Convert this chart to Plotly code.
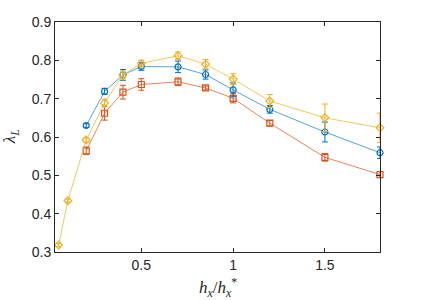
import plotly.graph_objects as go

x_blue = [0.2, 0.3, 0.4, 0.5, 0.7, 0.85, 1.0, 1.2, 1.5, 1.8]
y_blue = [0.630, 0.719, 0.762, 0.784, 0.783, 0.763, 0.723, 0.672, 0.613, 0.559]
e_blue = [0.005, 0.008, 0.014, 0.010, 0.015, 0.012, 0.018, 0.010, 0.026, 0.015]

x_red = [0.2, 0.3, 0.4, 0.5, 0.7, 0.85, 1.0, 1.2, 1.5, 1.8]
y_red = [0.564, 0.662, 0.717, 0.737, 0.744, 0.728, 0.701, 0.636, 0.547, 0.502]
e_red = [0.010, 0.018, 0.018, 0.015, 0.010, 0.005, 0.012, 0.007, 0.010, 0.008]

x_yel = [0.05, 0.1, 0.2, 0.3, 0.4, 0.5, 0.7, 0.85, 1.0, 1.2, 1.5, 1.8]
y_yel = [0.318, 0.434, 0.592, 0.689, 0.762, 0.792, 0.812, 0.790, 0.751, 0.694, 0.650, 0.624]
e_yel = [0.004, 0.004, 0.006, 0.010, 0.010, 0.008, 0.010, 0.012, 0.014, 0.017, 0.036, 0.038]

x_ticks = [0.5, 1, 1.5]
y_ticks = [0.3, 0.4, 0.5, 0.6, 0.7, 0.8, 0.9]

fig = go.Figure()

def add(x, y, e, color, line_rgba, symbol):
    fig.add_trace(go.Scatter(
        x=x, y=y, mode="lines+markers", cliponaxis=False,
        line=dict(color=line_rgba, width=1),
        marker=dict(symbol=symbol, size=6, color=color,
                    line=dict(color=color, width=1.2)),
        error_y=dict(type="data", array=e, color=color, thickness=1, width=3),
        showlegend=False))

add(x_red, y_red, e_red, "#D95319", "rgba(217,83,25,0.7)", "square-open")
add(x_blue, y_blue, e_blue, "#0072BD", "rgba(0,114,189,0.65)", "circle-open")
add(x_yel, y_yel, e_yel, "#EDB120", "rgba(237,177,32,0.7)", "diamond-open")

axis_common = dict(showline=True, linecolor="#262626", linewidth=1, mirror="ticks",
                   ticks="inside", ticklen=4, tickcolor="#262626", showgrid=False,
                   zeroline=False, tickfont=dict(family="Liberation Sans, Arial", size=14, color="#262626"))

title_font = dict(family="Liberation Serif, Times New Roman", size=17, color="#262626")

fig.update_layout(
    width=425, height=300,
    margin=dict(l=55, r=45, t=22, b=48),
    paper_bgcolor="white", plot_bgcolor="white",
    xaxis=dict(range=[0.03, 1.8], tickvals=x_ticks, ticktext=["0.5", "1", "1.5"], **axis_common),
    yaxis=dict(range=[0.3, 0.9], tickvals=y_ticks, ticktext=[f"{v:.1f}" for v in y_ticks], **axis_common),
    annotations=[
        dict(text="<i>h<sub>x</sub></i>/<i>h<sub>x</sub></i><sup>*</sup>", xref="paper", yref="paper",
             x=0.5, y=-0.09, xanchor="center", yanchor="top", showarrow=False, font=title_font),
        dict(text="<i>λ<sub>L</sub></i>", xref="paper", yref="paper", textangle=-90,
             x=-0.135, y=0.5, xanchor="center", yanchor="middle", showarrow=False, font=title_font),
    ],
)

fig.write_html("out.html", config={"displayModeBar": False},
               post_script="document.body.style.margin='0';document.body.style.overflow='hidden';")
